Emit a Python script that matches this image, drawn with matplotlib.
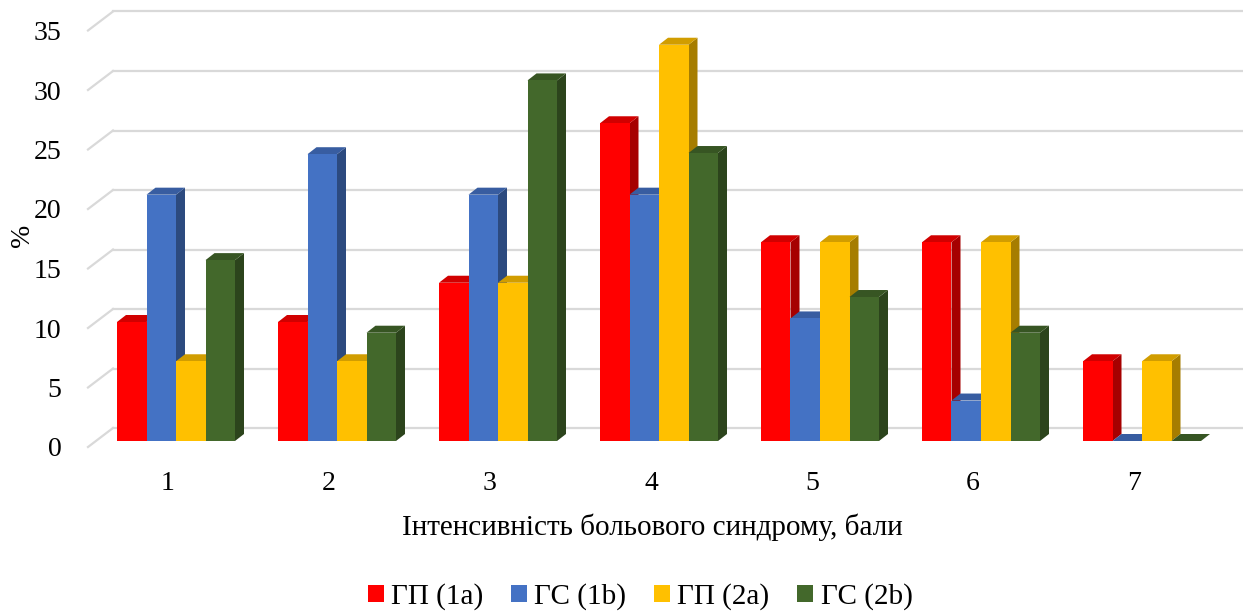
import numpy as np
import matplotlib.pyplot as plt
from matplotlib.patches import Polygon
from matplotlib.colors import to_rgb

plt.rcParams['font.family'] = ['Liberation Serif', 'DejaVu Serif']

# Data (percent of patients per pain intensity score)
categories = ['1', '2', '3', '4', '5', '6', '7']
series_names = ['ГП (1a)', 'ГС (1b)', 'ГП (2a)', 'ГС (2b)']
gp_1a = [10.0, 10.0, 13.3, 26.7, 16.7, 16.7, 6.7]
gs_1b = [20.7, 24.1, 20.7, 20.7, 10.3, 3.4, 0.0]
gp_2a = [6.7, 6.7, 13.3, 33.3, 16.7, 16.7, 6.7]
gs_2b = [15.2, 9.1, 30.3, 24.2, 12.1, 9.1, 0.0]
colors = ['#FF0000', '#4472C4', '#FFC000', '#43682B']
yticks = [0, 5, 10, 15, 20, 25, 30, 35]

series = [gp_1a, gs_1b, gp_2a, gs_2b]

# pixel geometry of the fake 3D look
px_x = 161.0   # pixels per group
px_y = 11.9    # pixels per percent
fig = plt.figure(figsize=(12.43, 6.14), dpi=100)
ax = fig.add_axes([88 / 1243, (614 - 460) / 614, 1 - 88 / 1243, 460 / 614])
ax.set_xlim(1 - (176 - 88) / px_x, 1 + (1243 - 176) / px_x)
ax.set_ylim(-(460 - 441) / px_y, 441 / px_y)

bar_w = 29.5 / px_x
ddx = 9 / px_x
ddy = 7 / px_y

# back wall gridlines + diagonal stubs on the left
wall_x = 1 - (176 - 113) / px_x
wall_dy = 13 / px_y
stub_dy = -6 / px_y
x0 = ax.get_xlim()[0]
for v in yticks:
    ax.plot([wall_x, ax.get_xlim()[1]], [v + wall_dy, v + wall_dy],
            color='#d9d9d9', lw=1.6, zorder=0, clip_on=False)
    ax.plot([x0, wall_x], [v + stub_dy, v + wall_dy],
            color='#d9d9d9', lw=1.6, zorder=0, clip_on=False)


def shade(c, f):
    r, g, b = to_rgb(c)
    return (r * f, g * f, b * f)


# bars drawn left to right so the next front face hides the previous side
x = np.arange(1, len(categories) + 1)
z = 2
for i in range(len(categories)):
    for j, vals in enumerate(series):
        left = x[i] - 2 * bar_w + j * bar_w
        right = left + bar_w
        h = vals[i]
        side = Polygon([(right, 0), (right + ddx, ddy), (right + ddx, h + ddy), (right, h)],
                       closed=True, facecolor=shade(colors[j], 0.65), edgecolor='none', zorder=z)
        top = Polygon([(left, h), (right, h), (right + ddx, h + ddy), (left + ddx, h + ddy)],
                      closed=True, facecolor=shade(colors[j], 0.82), edgecolor='none', zorder=z)
        ax.add_patch(side)
        ax.add_patch(top)
        ax.bar(left, h, width=bar_w, align='edge', color=colors[j], zorder=z + 1)
        z += 2

for j, name in enumerate(series_names):
    ax.bar(0, 0, color=colors[j], label=name)

ax.set_xticks(x - 8 / px_x)
ax.set_xticklabels(categories, fontsize=20)
ax.set_yticks([v + stub_dy for v in yticks])
ax.set_yticklabels([str(v) for v in yticks], fontsize=20)
ax.tick_params(axis='x', length=0, pad=8)
ax.tick_params(axis='y', length=0, pad=19)
for s in ax.spines.values():
    s.set_visible(False)

fig.text(0.525, 0.142, 'Інтенсивність больового синдрому, бали', ha='center', va='center', fontsize=21)
fig.text(0.018, 0.617, '%', ha='center', va='center', rotation=90, fontsize=20)

fig.legend(loc='center', bbox_to_anchor=(0.515, 0.028), ncol=4, frameon=False,
           prop={'family': ['Liberation Serif'], 'size': 21},
           handlelength=0.55, handleheight=0.55, handletextpad=0.25, columnspacing=0.95)

plt.savefig('out.png', dpi=100)
